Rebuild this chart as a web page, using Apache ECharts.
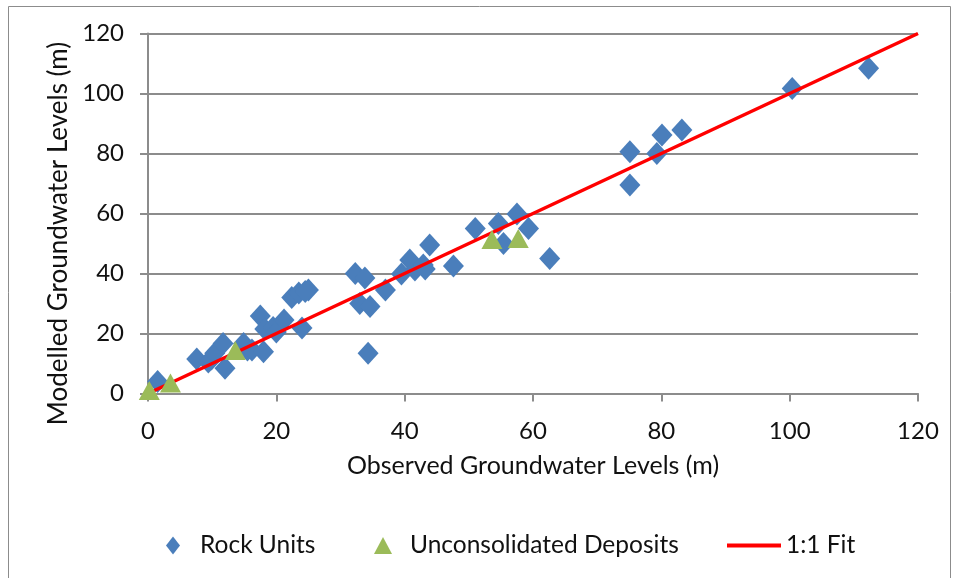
<!DOCTYPE html>
<html>
<head>
<meta charset="utf-8">
<script src="https://cdn.jsdelivr.net/npm/echarts@6/dist/echarts.min.js"></script>
<style>
  html, body { margin: 0; padding: 0; background: #fff; }
  #chart { width: 960px; height: 578px; }
</style>
</head>
<body>
<div id="chart"></div>
<script>
// Observed vs modelled groundwater levels (m)
const rockUnits = [
  [1.5, 4], [7.6, 11.5], [9.4, 10.5], [9.9, 11.5], [10.4, 13.4], [11.7, 16.7],
  [12, 8.4], [14.9, 16.7], [15.5, 14.5], [16.2, 14.5], [18, 13.9], [17.5, 25.8],
  [18.2, 21.5], [19.5, 22], [20, 20.5], [21.2, 24.5], [22.4, 32], [24, 21.8],
  [23.5, 33.5], [25, 34.5], [24.5, 34], [32.3, 40], [33.8, 38.5], [33, 30],
  [34.6, 29], [34.3, 13.4], [37, 34.5], [39.5, 39.8], [40.8, 44.5], [41.6, 41.2],
  [42.9, 42.8], [43.2, 41.5], [43.9, 49.5], [47.6, 42.5], [51, 55], [54.6, 56.7],
  [55.4, 50], [57.5, 59.8], [59.3, 55], [62.6, 45], [75.1, 80.6], [75.1, 69.5],
  [79.3, 80], [80.1, 86.2], [83.2, 87.8], [100.4, 101.7], [112.3, 108.4]
];
const unconsolidated = [
  [0.2, 1], [3.5, 3.5], [13.6, 14.3], [53.6, 51.3], [57.7, 51.7]
];
const fitLine = [[0, 0], [120, 120]];
const axisTicks = { min: 0, max: 120, interval: 20 };

const FONT = 'Lato';
const TEXT = '#111';
const GRID = '#8c8c8c';

const chart = echarts.init(document.getElementById('chart'), null, { renderer: 'canvas' });

function axisCommon(name, nameGap, labelMargin) {
  return {
    type: 'value',
    min: axisTicks.min, max: axisTicks.max, interval: axisTicks.interval,
    name: name,
    nameLocation: 'middle',
    nameGap: nameGap,
    nameTextStyle: { fontFamily: FONT, fontSize: 25, color: TEXT },
    axisLine: { show: true, onZero: false, lineStyle: { color: GRID, width: 2 } },
    axisTick: { show: true, inside: false, length: 8, lineStyle: { color: GRID, width: 2 } },
    axisLabel: { fontFamily: FONT, fontSize: 24, color: TEXT, margin: labelMargin },
    splitLine: { show: false }
  };
}

const xAxis = axisCommon('Observed Groundwater Levels (m)', 60, 26);
const yAxis = axisCommon('Modelled Groundwater Levels (m)', 65, 24);
yAxis.splitLine = { show: true, lineStyle: { color: GRID, width: 2 } };
// the vertical title sits a little below the middle of the axis
yAxis.nameTextStyle = { fontFamily: FONT, fontSize: 26, color: TEXT, padding: [0, 40, 0, 0] };

const legendText = { fontFamily: FONT, fontSize: 24.5, color: TEXT };

chart.setOption({
  backgroundColor: '#fff',
  animation: false,
  grid: { left: 148, top: 33.5, width: 770, height: 360, containLabel: false },
  xAxis: xAxis,
  yAxis: yAxis,
  legend: [
    {
      data: ['Rock Units'], left: 161, top: 528, icon: 'diamond',
      itemWidth: 14, itemHeight: 18,
      textStyle: Object.assign({ padding: [0, 0, 0, 15] }, legendText)
    },
    {
      data: ['Unconsolidated Deposits'], left: 369, top: 528, icon: 'triangle',
      itemWidth: 18, itemHeight: 17,
      textStyle: Object.assign({ padding: [0, 0, 0, 13] }, legendText)
    },
    {
      data: ['1:1 Fit'], left: 722, top: 528, icon: 'rect',
      itemWidth: 54, itemHeight: 4,
      textStyle: legendText
    }
  ],
  graphic: [{
    type: 'rect', silent: true, z: -1,
    shape: { x: 8.5, y: 6.5, width: 942, height: 590 },
    style: { fill: 'none', stroke: '#8c8c8c', lineWidth: 1 }
  }],
  series: [
    {
      name: 'Rock Units', type: 'scatter', data: rockUnits, z: 2,
      symbol: 'diamond', symbolSize: [21, 23],
      itemStyle: { color: '#4a7ebb', opacity: 1 }
    },
    {
      name: '1:1 Fit', type: 'line', data: fitLine, z: 3,
      symbol: 'none', lineStyle: { color: '#ff0000', width: 3.5 },
      itemStyle: { color: '#ff0000' }
    },
    {
      name: 'Unconsolidated Deposits', type: 'scatter', data: unconsolidated, z: 4,
      symbol: 'triangle', symbolSize: [21, 19],
      itemStyle: { color: '#9bbb59', opacity: 1 }
    }
  ]
});
</script>
</body>
</html>
